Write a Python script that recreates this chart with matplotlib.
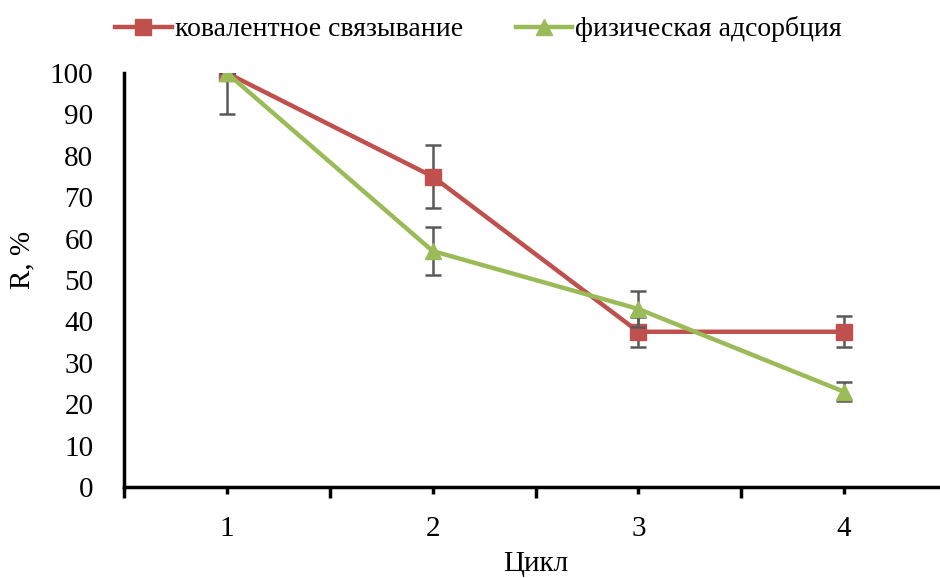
import matplotlib
matplotlib.use("Agg")
import matplotlib.pyplot as plt
from matplotlib.lines import Line2D
import numpy as np

cycles = ["1", "2", "3", "4"]
covalent = [100, 75, 37.5, 37.5]
covalent_err = [10, 7.5, 3.6, 3.8]
physical = [100, 57, 43, 23]
physical_err = [0, 5.7, 4.4, 2.3]
labels = ["ковалентное связывание", "физическая адсорбция"]

plt.rcParams['font.family'] = ['Liberation Serif', 'DejaVu Serif']

fig = plt.figure(figsize=(9.4, 5.78), dpi=100)
ax = fig.add_axes([124/940, 91/578, 823/940, 414/578])

x = np.arange(1, len(cycles) + 1)
red = '#C0504D'
green = '#9BBB59'
errc = '#595959'

ax.errorbar(x, covalent, yerr=covalent_err, color=red, lw=3.2, marker='s', ms=11,
            ecolor=errc, elinewidth=1.8, capsize=6, capthick=1.8, zorder=3)
ax.errorbar(x, physical, yerr=physical_err, color=green, lw=3.2, marker='^', ms=12,
            ecolor=errc, elinewidth=1.8, capsize=6, capthick=1.8, zorder=4)

ax.set_xlim(0.5, len(cycles) + 0.5)
ax.set_ylim(0, 100)
ax.set_yticks(np.arange(0, 101, 10))
ax.set_xticks(np.arange(0.5, len(cycles) + 1, 1))
ax.set_xticklabels([])
ax.set_xticks(x, minor=True)
ax.set_xticklabels(cycles, minor=True)

for s in ['top', 'right']:
    ax.spines[s].set_visible(False)
for s in ['left', 'bottom']:
    ax.spines[s].set_linewidth(2.5)

ax.tick_params(axis='y', length=0, pad=22, labelsize=21)
ax.tick_params(axis='x', which='major', length=8, width=2.5, direction='out')
ax.tick_params(axis='x', which='minor', length=5, width=2.5, direction='out', pad=16, labelsize=21)

fig.text(536/940, 1 - 571/578, "Цикл", fontsize=21, ha='center', va='baseline')
fig.text(22/940, 1 - 260/578, "R, %", fontsize=21, ha='center', va='center', rotation=90)

handles = [Line2D([], [], color=red, lw=3.2, marker='s', ms=11),
           Line2D([], [], color=green, lw=3.2, marker='^', ms=12)]
fig.legend(handles, labels, loc='upper center', bbox_to_anchor=(0.509, 1.015), ncol=2, frameon=False,
           fontsize=20, handlelength=2.05, handletextpad=0.1, columnspacing=1.9)

fig.savefig("out.png", dpi=100)
